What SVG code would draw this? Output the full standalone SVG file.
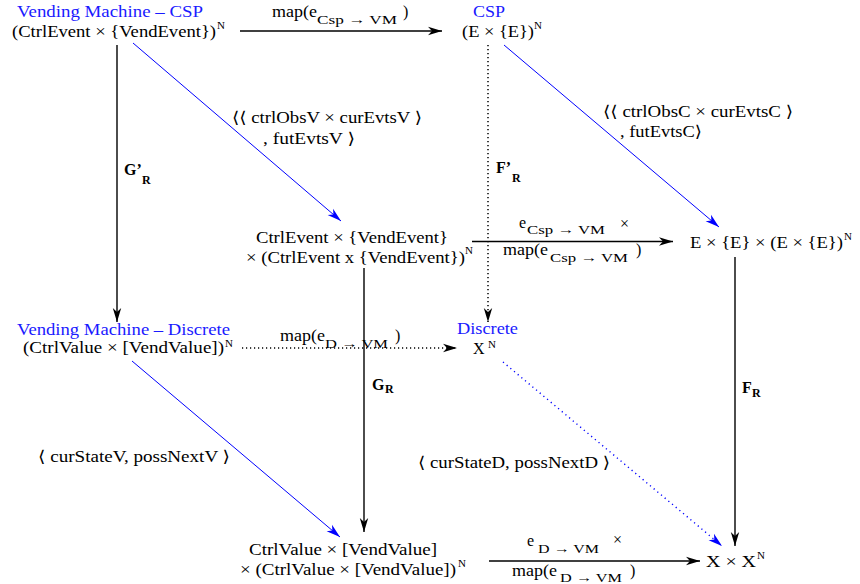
<svg xmlns="http://www.w3.org/2000/svg" width="860" height="584" viewBox="0 0 860 584">
<style>
text{font-family:"Liberation Serif","DejaVu Serif",serif;font-size:16px;fill:#000}
.b{fill:#1a1aff}
.s{font-size:13px}
.n{font-size:11px}
.bd{font-weight:bold;font-size:16px}
.bs{font-weight:bold;font-size:12px}
.k{stroke:#000;stroke-width:1.4;fill:none}
.kd{stroke:#000;stroke-width:1.5;fill:none;stroke-dasharray:1.2 2.8}
.u{stroke:#0000ff;stroke-width:1;fill:none}
.ud{stroke:#0000ff;stroke-width:1.4;fill:none;stroke-dasharray:1.2 3.6}
</style>
<defs>
<marker id="ak" viewBox="-15 -5 16 10" refX="0" refY="0" markerWidth="16" markerHeight="10" orient="auto" markerUnits="userSpaceOnUse"><path d="M0,0 L-14,-4.2 L-10,0 L-14,4.2 Z" fill="#000"/></marker>
<marker id="ab" viewBox="-15 -5 16 10" refX="0" refY="0" markerWidth="16" markerHeight="10" orient="auto" markerUnits="userSpaceOnUse"><path d="M0,0 L-14,-4.2 L-10,0 L-14,4.2 Z" fill="#0000ff"/></marker>
</defs>
<rect width="860" height="584" fill="#fff"/>
<g id="connectors">
<line class="k" x1="240" y1="31" x2="442" y2="31" marker-end="url(#ak)"/>
<line class="k" x1="117" y1="45" x2="117" y2="322" marker-end="url(#ak)"/>
<line class="u" x1="133" y1="43" x2="341" y2="221" marker-end="url(#ab)"/>
<line class="kd" x1="488" y1="45" x2="488" y2="322" marker-end="url(#ak)"/>
<line class="u" x1="504" y1="45" x2="719" y2="227" marker-end="url(#ab)"/>
<line class="k" x1="472" y1="241.5" x2="673" y2="241.5" marker-end="url(#ak)"/>
<line class="k" x1="364" y1="268" x2="364" y2="532" marker-end="url(#ak)"/>
<line class="k" x1="735" y1="257" x2="735" y2="546" marker-end="url(#ak)"/>
<line class="kd" x1="242" y1="348" x2="457" y2="348" marker-end="url(#ak)"/>
<line class="u" x1="132" y1="361" x2="340" y2="537" marker-end="url(#ab)"/>
<line class="ud" x1="503" y1="362" x2="722" y2="546" marker-end="url(#ab)"/>
<line class="k" x1="489" y1="561" x2="700" y2="561" marker-end="url(#ak)"/>
</g>
<g id="vm-csp">
<text class="b" x="17" y="17" textLength="186" lengthAdjust="spacingAndGlyphs">Vending Machine – CSP</text>
<text x="12" y="37" textLength="204" lengthAdjust="spacingAndGlyphs">(CtrlEvent × {VendEvent})</text>
<text class="n" x="217" y="29">N</text>
</g>
<g id="csp">
<text class="b" x="473" y="17" textLength="32" lengthAdjust="spacingAndGlyphs">CSP</text>
<text x="462" y="37" textLength="72" lengthAdjust="spacingAndGlyphs">(E × {E})</text>
<text class="n" x="534" y="29">N</text>
</g>
<g id="mid-csp">
<text x="256" y="243" textLength="192" lengthAdjust="spacingAndGlyphs">CtrlEvent × {VendEvent}</text>
<text x="246" y="263" textLength="219" lengthAdjust="spacingAndGlyphs">× (CtrlEvent x {VendEvent})</text>
<text class="n" x="465" y="254">N</text>
</g>
<g id="e-csp">
<text x="690" y="248" textLength="153" lengthAdjust="spacingAndGlyphs">E × {E} × (E × {E})</text>
<text class="n" x="844" y="240">N</text>
</g>
<g id="vm-discrete">
<text class="b" x="17" y="335" textLength="213" lengthAdjust="spacingAndGlyphs">Vending Machine – Discrete</text>
<text x="23" y="353" textLength="201" lengthAdjust="spacingAndGlyphs">(CtrlValue × [VendValue])</text>
<text class="n" x="225" y="347">N</text>
</g>
<g id="discrete">
<text class="b" x="457" y="334" textLength="61" lengthAdjust="spacingAndGlyphs">Discrete</text>
<text x="473" y="354">X</text>
<text class="n" x="488" y="348">N</text>
</g>
<g id="mid-discrete">
<text x="249" y="555" textLength="188" lengthAdjust="spacingAndGlyphs">CtrlValue × [VendValue]</text>
<text x="240" y="575" textLength="216" lengthAdjust="spacingAndGlyphs">× (CtrlValue × [VendValue])</text>
<text class="n" x="458" y="567">N</text>
</g>
<g id="x-discrete">
<text x="706" y="567" textLength="50" lengthAdjust="spacingAndGlyphs">X × X</text>
<text class="n" x="757" y="559">N</text>
</g>
<g id="labels">
<text x="272" y="17" textLength="45" lengthAdjust="spacingAndGlyphs">map(e</text>
<text class="s" x="317" y="24" textLength="80" lengthAdjust="spacingAndGlyphs">Csp → VM</text>
<text x="403" y="17">)</text>
<text x="232" y="123" textLength="190" lengthAdjust="spacingAndGlyphs">⟨⟨ ctrlObsV × curEvtsV ⟩</text>
<text x="263" y="144" textLength="92" lengthAdjust="spacingAndGlyphs">, futEvtsV ⟩</text>
<text x="603" y="117" textLength="190" lengthAdjust="spacingAndGlyphs">⟨⟨ ctrlObsC × curEvtsC ⟩</text>
<text x="620" y="137" textLength="82" lengthAdjust="spacingAndGlyphs">, futEvtsC⟩</text>
<text class="bd" x="124" y="175">G’</text>
<text class="bs" x="142" y="184">R</text>
<text class="bd" x="496" y="173">F’</text>
<text class="bs" x="512" y="182">R</text>
<text x="519" y="228">e</text>
<text class="s" x="527" y="234" textLength="78" lengthAdjust="spacingAndGlyphs">Csp → VM</text>
<text x="620" y="229">×</text>
<text x="503" y="255" textLength="45" lengthAdjust="spacingAndGlyphs">map(e</text>
<text class="s" x="550" y="262" textLength="78" lengthAdjust="spacingAndGlyphs">Csp → VM</text>
<text x="636" y="255">)</text>
<text x="280" y="341" textLength="45" lengthAdjust="spacingAndGlyphs">map(e</text>
<text class="s" x="325" y="348" textLength="63" lengthAdjust="spacingAndGlyphs">D → VM</text>
<text x="395" y="341">)</text>
<text class="bd" x="372" y="390">G</text>
<text class="bs" x="385" y="393">R</text>
<text class="bd" x="742" y="393">F</text>
<text class="bs" x="752" y="397">R</text>
<text x="38" y="462" textLength="192" lengthAdjust="spacingAndGlyphs">⟨ curStateV, possNextV ⟩</text>
<text x="418" y="468" textLength="192" lengthAdjust="spacingAndGlyphs">⟨ curStateD, possNextD ⟩</text>
<text x="527" y="546">e</text>
<text class="s" x="538" y="553" textLength="61" lengthAdjust="spacingAndGlyphs">D → VM</text>
<text x="613" y="545">×</text>
<text x="512" y="576" textLength="45" lengthAdjust="spacingAndGlyphs">map(e</text>
<text class="s" x="560" y="582" textLength="62" lengthAdjust="spacingAndGlyphs">D → VM</text>
<text x="630" y="576">)</text>
</g>
</svg>
